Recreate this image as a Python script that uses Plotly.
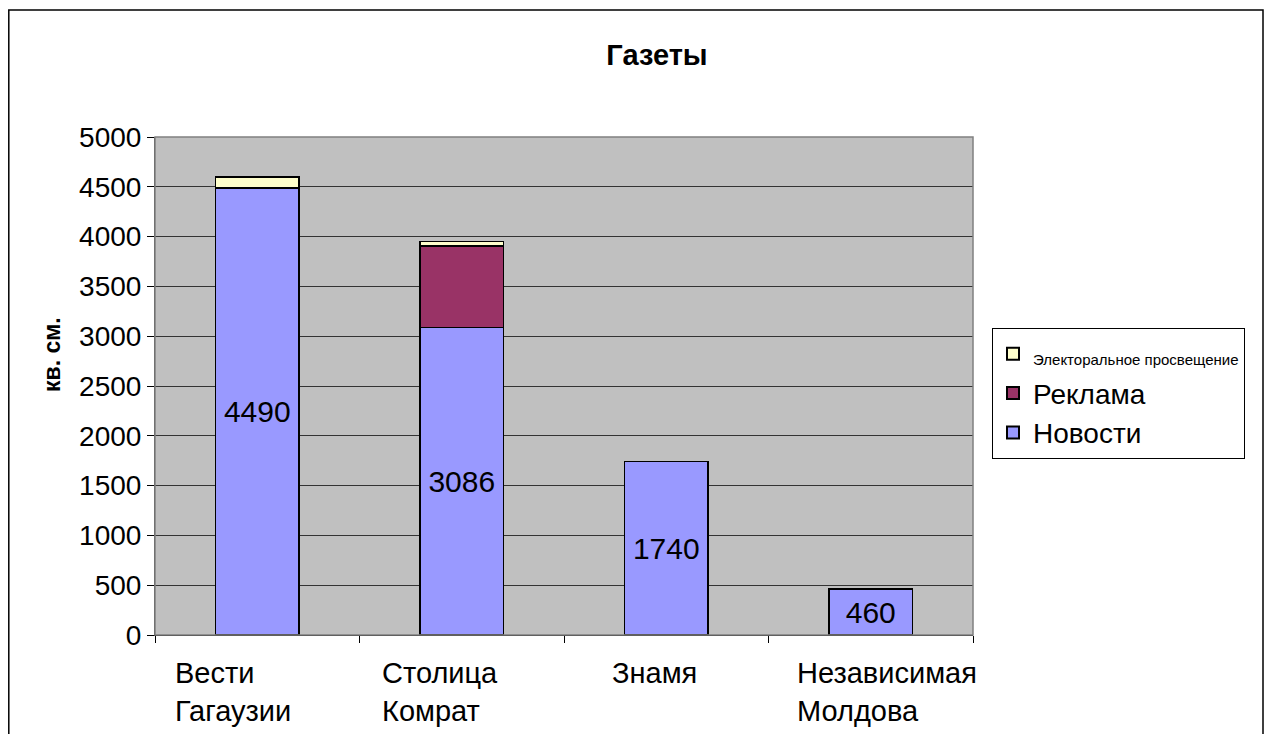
import plotly.graph_objects as go

categories = ["Вести<br>Гагаузии", "Столица<br>Комрат", "Знамя", "Независимая<br>Молдова"]
cat_keys = ["Вести Гагаузии", "Столица Комрат", "Знамя", "Независимая Молдова"]
news = [4490, 3086, 1740, 460]
ads = [0, 820, 0, 0]
electoral = [110, 45, 0, 0]
news_labels = ["4490", "3086", "1740", "460"]
y_ticks = [0, 500, 1000, 1500, 2000, 2500, 3000, 3500, 4000, 4500, 5000]
label_shifts = [-84, -82, -56, -76]

FONT = "Liberation Sans, Arial, sans-serif"
line = dict(color="black", width=1.5)

# page has an 8px body margin; figure coords = page coords - 8
OFF = 8
W, H = 1272 - 2 * OFF, 742 - 2 * OFF
PL, PR, PT, PB = 155 - OFF, 973 - OFF, 137 - OFF, 635 - OFF
PW, PH = PR - PL, PB - PT


def px(xp):
    return (xp - OFF - PL) / PW


def py(yp):
    return (PB - (yp - OFF)) / PH


fig = go.Figure()
fig.add_trace(go.Bar(
    x=cat_keys, y=news, name="Новости",
    marker=dict(color="#9999FF", line=line),
    text=news_labels, textposition="inside", insidetextanchor="middle",
    constraintext="none",
    textfont=dict(size=30, color="black", family=FONT), textangle=0,
))
fig.add_trace(go.Bar(
    x=cat_keys, y=ads, name="Реклама",
    marker=dict(color="#993366", line=line),
))
fig.add_trace(go.Bar(
    x=cat_keys, y=electoral,
    name="<span style=\"font-size:15px\">Электоральное просвещение</span>",
    marker=dict(color="#FFFFCC", line=line),
))

for cat, lab, sh in zip(cat_keys, categories, label_shifts):
    fig.add_annotation(
        x=cat, y=0, xref="x", yref="y", text=lab, showarrow=False,
        xanchor="left", yanchor="top", align="left", yshift=-20, xshift=sh,
        font=dict(size=29, color="black", family=FONT),
    )

fig.add_annotation(
    x=px(52), y=py(355), xref="paper", yref="paper", text="<b>кв. см.</b>",
    showarrow=False, textangle=-90, xanchor="center", yanchor="middle",
    font=dict(size=23, color="black", family=FONT),
)

fig.update_layout(
    width=W, height=H,
    barmode="stack", bargap=0.59,
    paper_bgcolor="white", plot_bgcolor="#C0C0C0",
    margin=dict(l=PL, r=W - PR, t=PT, b=H - PB),
    font=dict(family=FONT, color="black"),
    title=dict(text="<b>Газеты</b>", x=(657 - OFF) / W, xanchor="center",
               y=1 - (55 - OFF) / H, yanchor="middle",
               font=dict(size=29, color="black", family=FONT)),
    showlegend=True,
    legend=dict(
        x=px(992), xanchor="left", y=py(328), yanchor="top",
        bordercolor="black", borderwidth=1, bgcolor="rgba(0,0,0,0)",
        font=dict(size=28, color="black", family=FONT),
        traceorder="reversed", itemsizing="constant",
        tracegroupgap=0, itemwidth=30,
    ),
    xaxis=dict(
        showticklabels=False, showgrid=False, ticks="outside", tickson="boundaries",
        ticklen=7, tickcolor="black", showline=True, linecolor="black", linewidth=1,
        range=[-0.5, 3.5],
    ),
    yaxis=dict(
        range=[0, 5000], tickvals=y_ticks, ticks="outside", ticklen=7,
        tickcolor="black", showline=True, linecolor="#404040", linewidth=1,
        showgrid=True, gridcolor="#333333", gridwidth=1,
        tickfont=dict(size=28, color="black", family=FONT),
        zeroline=False,
    ),
    shapes=[
        dict(type="rect", xref="paper", yref="paper", x0=0, x1=1, y0=0, y1=1,
             line=dict(color="#808080", width=1.5), fillcolor="rgba(0,0,0,0)", layer="above"),
        dict(type="rect", xref="paper", yref="paper",
             x0=px(8.8), x1=px(1263), y0=py(760), y1=py(10),
             line=dict(color="black", width=1.5), fillcolor="rgba(0,0,0,0)"),
    ],
)

fig.write_html("out.html")
